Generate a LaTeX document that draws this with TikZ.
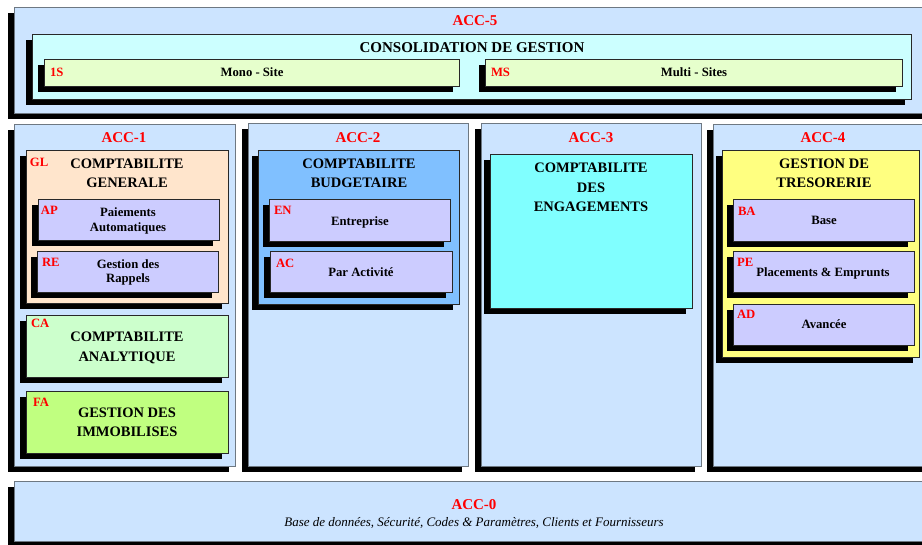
\documentclass[tikz,border=0pt]{standalone}
\usepackage{fontspec}
\setmainfont{Liberation Serif}[BoldFont={Liberation Serif Bold},ItalicFont={Liberation Serif Italic}]
\usetikzlibrary{shadows}
\definecolor{accbg}{RGB}{204,228,255}
\definecolor{consc}{RGB}{204,255,255}
\definecolor{sitec}{RGB}{230,255,204}
\definecolor{peach}{RGB}{255,229,204}
\definecolor{lav}{RGB}{204,204,255}
\definecolor{cagreen}{RGB}{204,255,204}
\definecolor{fagreen}{RGB}{192,255,128}
\definecolor{budblue}{RGB}{128,192,255}
\definecolor{engcyan}{RGB}{128,255,255}
\definecolor{treyellow}{RGB}{255,255,128}
\definecolor{panelline}{RGB}{110,120,130}
\definecolor{boxline}{RGB}{40,40,40}
\definecolor{tagred}{RGB}{255,0,0}
\tikzset{
  every node/.style={inner sep=0pt, outer sep=0pt},
  shad/.style={drop shadow={shadow xshift=-6pt, shadow yshift=-6pt, fill=black, opacity=1}},
  panel/.style={shad, draw=panelline, line width=0.8pt, anchor=north west},
  module/.style={shad, draw=boxline, line width=0.8pt, anchor=north west},
  acclbl/.style={text=tagred, font=\fontsize{15}{18}\selectfont\bfseries, anchor=base},
  ttl/.style={font=\fontsize{14.5}{17}\selectfont\bfseries, anchor=base},
  subt/.style={font=\fontsize{12.7}{15}\selectfont\bfseries, anchor=base},
  tag/.style={text=tagred, font=\fontsize{12.7}{14}\selectfont\bfseries, anchor=base west},
}
\newcommand{\pbox}[6]{\node[#6, minimum width={#4-#2}, minimum height={#5-#3}] (#1) at (#2,#3) {};}
\begin{document}
\begin{tikzpicture}[x=1pt,y=-1pt]
\useasboundingbox (0,0) rectangle (922,545);
\clip (0,0) rectangle (922,545);
\fill[white] (0,0) rectangle (922,545);

% ACC-5
\pbox{acc5}{14}{7}{945}{113}{panel, fill=accbg}
\node[acclbl] (acc5t) at (475,26) {ACC-5};
\pbox{cons}{32}{34}{911}{99}{module, fill=consc}
\node[ttl, font=\fontsize{15}{18}\selectfont\bfseries] (const) at (472,53) {CONSOLIDATION DE GESTION};
\pbox{mono}{44}{59}{459}{86}{module, fill=sitec}
\node[tag] (monotag) at (50,77) {1S};
\node[subt] (monot) at (252,77) {Mono - Site};
\pbox{multi}{485}{59}{902}{86}{module, fill=sitec}
\node[tag] (multitag) at (491,77) {MS};
\node[subt] (multit) at (694,77) {Multi - Sites};

% ACC-1
\pbox{acc1}{14}{124}{235}{466}{panel, fill=accbg}
\node[acclbl] (acc1t) at (124,143) {ACC-1};
\pbox{gl}{26}{150}{228}{303}{module, fill=peach}
\node[tag] (gltag) at (30,167) {GL};
\node[ttl] (glt1) at (127,169) {COMPTABILITE};
\node[ttl] (glt2) at (127,188) {GENERALE};
\pbox{ap}{38}{199}{219}{240}{module, fill=lav}
\node[tag] (aptag) at (41,215) {AP};
\node[subt] (apt1) at (128,217) {Paiements};
\node[subt] (apt2) at (128,232) {Automatiques};
\pbox{re}{37}{251}{218}{292}{module, fill=lav}
\node[tag] (retag) at (42,267) {RE};
\node[subt] (ret1) at (128,269) {Gestion des};
\node[subt] (ret2) at (128,283) {Rappels};
\pbox{ca}{26}{315}{228}{377}{module, fill=cagreen}
\node[tag] (catag) at (31,328) {CA};
\node[ttl] (cat1) at (127,342) {COMPTABILITE};
\node[ttl] (cat2) at (127,362) {ANALYTIQUE};
\pbox{fa}{26}{391}{228}{453}{module, fill=fagreen}
\node[tag] (fatag) at (33,407) {FA};
\node[ttl] (fat1) at (127,418) {GESTION DES};
\node[ttl] (fat2) at (127,437) {IMMOBILISES};

% ACC-2
\pbox{acc2}{248}{123}{468}{466}{panel, fill=accbg}
\node[acclbl] (acc2t) at (358,143) {ACC-2};
\pbox{bud}{258}{150}{459}{304}{module, fill=budblue}
\node[ttl] (budt1) at (359,169) {COMPTABILITE};
\node[ttl] (budt2) at (359,188) {BUDGETAIRE};
\pbox{en}{269}{199}{450}{241}{module, fill=lav}
\node[tag] (entag) at (274,215) {EN};
\node[subt] (ent) at (360,226) {Entreprise};
\pbox{act}{270}{251}{452}{292}{module, fill=lav}
\node[tag] (acttag) at (276,268) {AC};
\node[subt] (actt) at (361,277) {Par Activité};

% ACC-3
\pbox{acc3}{481}{123}{701}{466}{panel, fill=accbg}
\node[acclbl] (acc3t) at (591,143) {ACC-3};
\pbox{eng}{490}{154}{692}{308}{module, fill=engcyan}
\node[ttl] (engt1) at (591,173) {COMPTABILITE};
\node[ttl] (engt2) at (591,193) {DES};
\node[ttl] (engt3) at (591,212) {ENGAGEMENTS};

% ACC-4
\pbox{acc4}{713}{124}{945}{466}{panel, fill=accbg}
\node[acclbl] (acc4t) at (823,143) {ACC-4};
\pbox{tre}{722}{150}{919}{357}{module, fill=treyellow}
\node[ttl] (tret1) at (824,169) {GESTION DE};
\node[ttl] (tret2) at (824,188) {TRESORERIE};
\pbox{ba}{733}{199}{914}{241}{module, fill=lav}
\node[tag] (batag) at (738,216) {BA};
\node[subt] (bat) at (824,225) {Base};
\pbox{pe}{733}{251}{914}{292}{module, fill=lav}
\node[tag] (petag) at (737,267) {PE};
\node[subt] (pet) at (823,277) {Placements \& Emprunts};
\pbox{ad}{733}{304}{914}{345}{module, fill=lav}
\node[tag] (adtag) at (737,319) {AD};
\node[subt] (adt) at (824,329) {Avancée};

% ACC-0
\pbox{acc0}{14}{481}{945}{541}{panel, fill=accbg}
\node[acclbl] (acc0t) at (474,510) {ACC-0};
\node[anchor=base, font=\fontsize{13}{15}\selectfont\itshape] (acc0d) at (474,526) {Base de données, Sécurité, Codes \& Paramètres, Clients et Fournisseurs};
\end{tikzpicture}
\end{document}
